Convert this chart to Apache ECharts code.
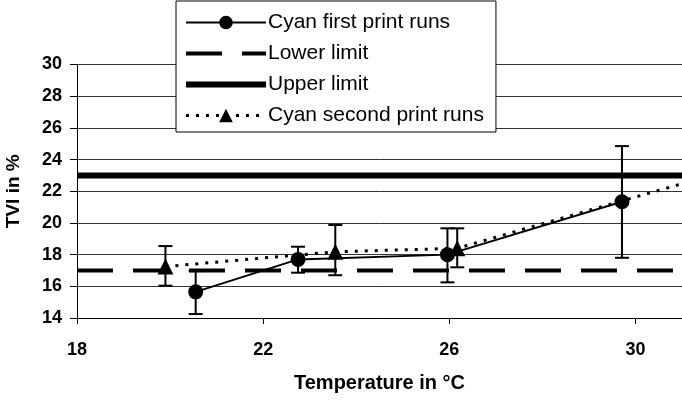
<!DOCTYPE html>
<html>
<head>
<meta charset="utf-8">
<script src="https://cdn.jsdelivr.net/npm/echarts@6/dist/echarts.min.js"></script>
<style>
  html, body { margin: 0; padding: 0; background: #fff; }
  #chart { width: 682px; height: 401px; }
</style>
</head>
<body>
<div id="chart"></div>
<script>
// first print runs (circles)
const firstX = [20.55, 22.75, 25.96, 29.71];
const firstY = [15.65, 17.7, 18.0, 21.34];
const firstLow = [14.25, 16.86, 16.25, 17.8];
const firstHigh = [16.96, 18.5, 19.66, 24.85];

// second print runs (triangles), last point lies past the right edge
const secondX = [19.9, 23.55, 26.17, 31.5];
const secondY = [17.25, 18.18, 18.4, 22.9];
const secondLow = [16.04, 16.7, 17.2, null];
const secondHigh = [18.54, 19.87, 19.66, null];

const limitX = [18, 31];
const lowerLimit = 17;
const upperLimit = 23;

const xTicks = [18, 22, 26, 30];

const font = 'Liberation Sans, Arial, sans-serif';
const clear = 'rgba(0,0,0,0)';

function pairs(xs, ys) {
  return xs.map((x, i) => [x, ys[i]]);
}

function errData(xs, lo, hi) {
  let res = [];
  xs.forEach((x, i) => {
    if (lo[i] != null) res.push([x, lo[i], hi[i]]);
  });
  return res;
}

function renderErr(params, api) {
  const lo = api.coord([api.value(0), api.value(1)]);
  const hi = api.coord([api.value(0), api.value(2)]);
  const w = 7;
  const style = { stroke: '#000', lineWidth: 2 };
  return {
    type: 'group',
    children: [
      { type: 'line', shape: { x1: lo[0], y1: lo[1], x2: hi[0], y2: hi[1] }, style: style },
      { type: 'line', shape: { x1: lo[0] - w, y1: lo[1], x2: lo[0] + w, y2: lo[1] }, style: style },
      { type: 'line', shape: { x1: hi[0] - w, y1: hi[1], x2: hi[0] + w, y2: hi[1] }, style: style }
    ]
  };
}

const chart = echarts.init(document.getElementById('chart'));

chart.setOption({
  animation: false,
  backgroundColor: '#fff',
  textStyle: { fontFamily: font },
  grid: { left: 77, right: 0, top: 64.5, bottom: 83, containLabel: false, outerBoundsMode: 'none' },
  legend: {
    data: [
      { name: 'Cyan first print runs', lineStyle: { width: 2 } },
      { name: 'Lower limit', lineStyle: { width: 4 }, itemStyle: { color: clear, borderWidth: 0 } },
      { name: 'Upper limit', lineStyle: { width: 6 }, itemStyle: { color: clear, borderWidth: 0 } },
      { name: 'Cyan second print runs', lineStyle: { width: 3 } }
    ],
    orient: 'vertical',
    left: 176,
    top: 1,
    padding: [11, 12, 6, 7],
    itemWidth: 80,
    itemHeight: 17,
    itemGap: 10,
    backgroundColor: '#fff',
    borderColor: '#000',
    borderWidth: 1,
    borderRadius: 0,
    textStyle: { fontFamily: font, fontSize: 21, lineHeight: 21, color: '#000', padding: [0, 0, 0, -3] }
  },
  xAxis: {
    type: 'value',
    min: 18,
    max: 31,
    interval: 4,
    name: 'Temperature in °C',
    nameLocation: 'middle',
    nameGap: 55,
    nameTextStyle: { fontFamily: font, fontSize: 20, fontWeight: 'bold', color: '#000' },
    axisLine: { lineStyle: { color: '#000', width: 1 } },
    axisTick: { show: true, inside: false, length: 6, lineStyle: { color: '#000' } },
    axisLabel: {
      margin: 23, fontFamily: font, fontSize: 18, fontWeight: 'bold', color: '#000',
      showMaxLabel: false,
      formatter: v => (xTicks.indexOf(v) >= 0 ? String(v) : '')
    },
    splitLine: { show: false }
  },
  yAxis: {
    type: 'value',
    min: 14,
    max: 30,
    interval: 2,
    name: 'TVI in %',
    nameLocation: 'middle',
    nameRotate: 90,
    nameGap: 54,
    nameTextStyle: { fontFamily: font, fontSize: 19, fontWeight: 'bold', color: '#000' },
    axisLine: { show: true, lineStyle: { color: '#000', width: 1 } },
    axisTick: { show: true, length: 7, lineStyle: { color: '#000' } },
    axisLabel: { margin: 15, fontFamily: font, fontSize: 18, fontWeight: 'bold', color: '#000' },
    splitLine: { show: true, lineStyle: { color: '#333', width: 1 } }
  },
  series: [
    {
      name: 'Lower limit',
      type: 'line',
      data: pairs(limitX, [lowerLimit, lowerLimit]),
      symbol: 'none',
      lineStyle: { color: '#000', width: 4, type: [36, 20] },
      itemStyle: { color: clear },
      z: 2
    },
    {
      name: 'Upper limit',
      type: 'line',
      data: pairs(limitX, [upperLimit, upperLimit]),
      symbol: 'none',
      lineStyle: { color: '#000', width: 6 },
      itemStyle: { color: clear },
      z: 2
    },
    {
      name: 'Cyan first print runs',
      type: 'line',
      data: pairs(firstX, firstY),
      symbol: 'circle',
      symbolSize: 15,
      lineStyle: { color: '#000', width: 2 },
      itemStyle: { color: '#000' },
      z: 4
    },
    {
      name: 'Cyan second print runs',
      type: 'line',
      data: pairs(secondX, secondY),
      symbol: 'triangle',
      symbolSize: 16,
      clip: true,
      lineStyle: { color: '#000', width: 3, type: [3, 7] },
      itemStyle: { color: '#000' },
      z: 4
    },
    {
      name: 'err1',
      type: 'custom',
      renderItem: renderErr,
      data: errData(firstX, firstLow, firstHigh),
      z: 3
    },
    {
      name: 'err2',
      type: 'custom',
      renderItem: renderErr,
      data: errData(secondX, secondLow, secondHigh),
      z: 3
    }
  ]
});
</script>
</body>
</html>
